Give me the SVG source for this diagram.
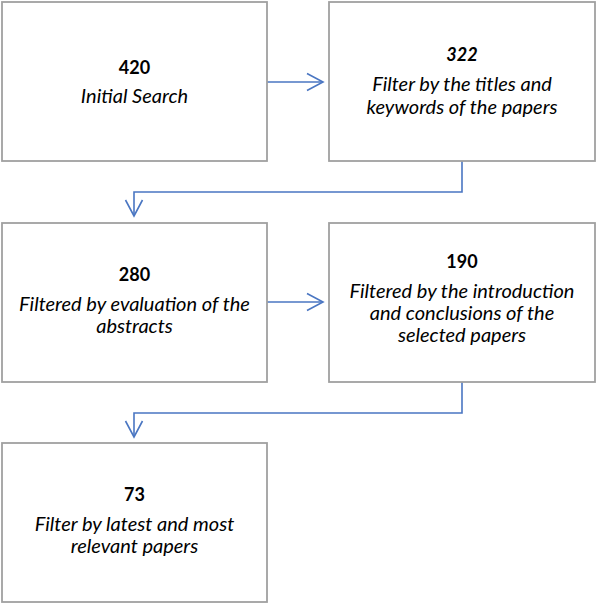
<svg xmlns="http://www.w3.org/2000/svg" width="596" height="605" viewBox="0 0 596 605">
<defs>
<style>
.box{fill:#ffffff;stroke:#a0a0a0;stroke-width:1.8}
.num{font-family:Lato,"Liberation Sans",sans-serif;font-weight:bold;font-size:18px;fill:#000;text-anchor:middle}
.lbl{font-family:Lato,"Liberation Sans",sans-serif;font-style:italic;font-size:20px;fill:#000;text-anchor:middle}
.conn{fill:none;stroke:#4a76c2;stroke-width:1.6}
</style>
<marker id="arr" markerUnits="userSpaceOnUse" markerWidth="20" markerHeight="20" viewBox="-17 -10 20 20" refX="0" refY="0" orient="auto">
<path d="M-16,-8.5 L0,0 L-16,8.5" fill="none" stroke="#4a76c2" stroke-width="1.6"/>
</marker>
</defs>
<rect width="596" height="605" fill="#ffffff"/>
<g id="connectors">
<path class="conn" d="M267,82 H323" marker-end="url(#arr)"/>
<path class="conn" d="M462,161 V192 H134 V216" marker-end="url(#arr)"/>
<path class="conn" d="M267,302 H323" marker-end="url(#arr)"/>
<path class="conn" d="M462,382 V413 H134 V437" marker-end="url(#arr)"/>
</g>
<g id="n420">
<rect class="box" x="2" y="2" width="265" height="159"/>
<text class="num" x="134.5" y="74">420</text>
<text class="lbl" x="134.5" y="103">Initial Search</text>
</g>
<g id="n322">
<rect class="box" x="329" y="2" width="266" height="159"/>
<text class="num" x="462" y="61" font-style="italic">322</text>
<text class="lbl" x="462" y="91">Filter by the titles and</text>
<text class="lbl" x="462" y="113.5">keywords of the papers</text>
</g>
<g id="n280">
<rect class="box" x="2" y="223" width="265" height="159"/>
<text class="num" x="134.5" y="281">280</text>
<text class="lbl" x="134.5" y="310.5">Filtered by evaluation of the</text>
<text class="lbl" x="134.5" y="333">abstracts</text>
</g>
<g id="n190">
<rect class="box" x="329" y="223" width="266" height="159"/>
<text class="num" x="462" y="268">190</text>
<text class="lbl" x="462" y="297.5">Filtered by the introduction</text>
<text class="lbl" x="462" y="319.5">and conclusions of the</text>
<text class="lbl" x="462" y="341.5">selected papers</text>
</g>
<g id="n73">
<rect class="box" x="2" y="443" width="265" height="159"/>
<text class="num" x="134.5" y="501">73</text>
<text class="lbl" x="134.5" y="531">Filter by latest and most</text>
<text class="lbl" x="134.5" y="553">relevant papers</text>
</g>
</svg>
